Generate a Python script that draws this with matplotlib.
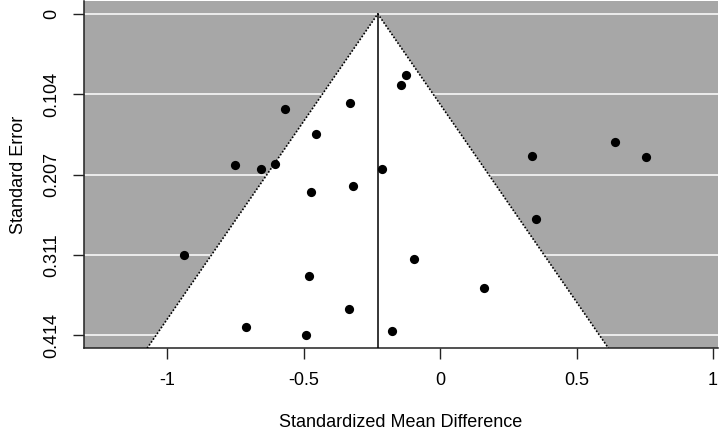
import numpy as np
import matplotlib
matplotlib.use("Agg")
import matplotlib.pyplot as plt

plt.rcParams['font.family'] = ['Liberation Sans', 'DejaVu Sans']

# Study effect sizes (standardized mean difference) and standard errors
smd = [-0.126, -0.143, -0.567, -0.329, -0.453, -0.657, -0.604, -0.213, -0.751,
       0.338, 0.641, 0.755, -0.937, -0.473, -0.319, -0.479, -0.096, -0.332,
       -0.711, -0.490, -0.177, 0.353, 0.162]
se = [0.0794, 0.0923, 0.1223, 0.1149, 0.1553, 0.1995, 0.1931, 0.2004, 0.1952,
      0.1837, 0.1651, 0.1840, 0.3111, 0.2295, 0.2223, 0.3381, 0.3162, 0.3801,
      0.4041, 0.4145, 0.4089, 0.2642, 0.3539]
pooled = -0.228
x_ticks = [-1, -0.5, 0, 0.5, 1]
x_tick_labels = ["-1", "-0.5", "0", "0.5", "1"]

se_max = max(se)
y_ticks = np.linspace(0, se_max, 5)
y_tick_labels = ["0", "0.104", "0.207", "0.311", "0.414"]

fig = plt.figure(figsize=(7.2, 4.34), dpi=100)
ax = fig.add_axes([84/720, (434-348.3)/434, (718-84)/720, (348.3-1)/434])

ylo, yhi = -0.04*se_max, 1.04*se_max
xlo, xhi = -1.304, 1.018
ax.set_xlim(xlo, xhi)
ax.set_ylim(yhi, ylo)

ax.set_facecolor('#A7A7A7')
for yt in y_ticks:
    ax.axhline(yt, color='white', lw=1.1, zorder=1)

# funnel region
se_seq = np.array([0, yhi])
left = pooled - 1.96*se_seq
right = pooled + 1.96*se_seq
ax.fill([pooled, left[1], right[1]], [0, yhi, yhi], color='white', zorder=2, lw=0)
ax.plot([left[1], pooled, right[1]], [yhi, 0, yhi], color='black', ls=(0, (1, 1.1)), lw=1.2, zorder=3)
ax.plot([pooled, pooled], [0, yhi], color='black', lw=1.1, zorder=3)

ax.scatter(smd, se, s=44, color='black', zorder=4, linewidths=0)

ax.set_xticks(x_ticks)
ax.set_xticklabels(x_tick_labels, fontsize=13)
ax.set_yticks(y_ticks)
ax.set_yticklabels(y_tick_labels, fontsize=13, rotation=90, va='center')
ax.tick_params(axis='both', length=8, width=1, color='#222222')
ax.tick_params(axis='x', pad=9)
ax.tick_params(axis='y', pad=9)

for s in ax.spines.values():
    s.set_color('#222222')
    s.set_linewidth(1.1)
ax.spines['top'].set_visible(False)
ax.spines['right'].set_visible(False)

ax.set_xlabel("Standardized Mean Difference", fontsize=13, labelpad=18)
ax.set_ylabel("Standard Error", fontsize=13, labelpad=12)

fig.savefig("out.png", dpi=100)
